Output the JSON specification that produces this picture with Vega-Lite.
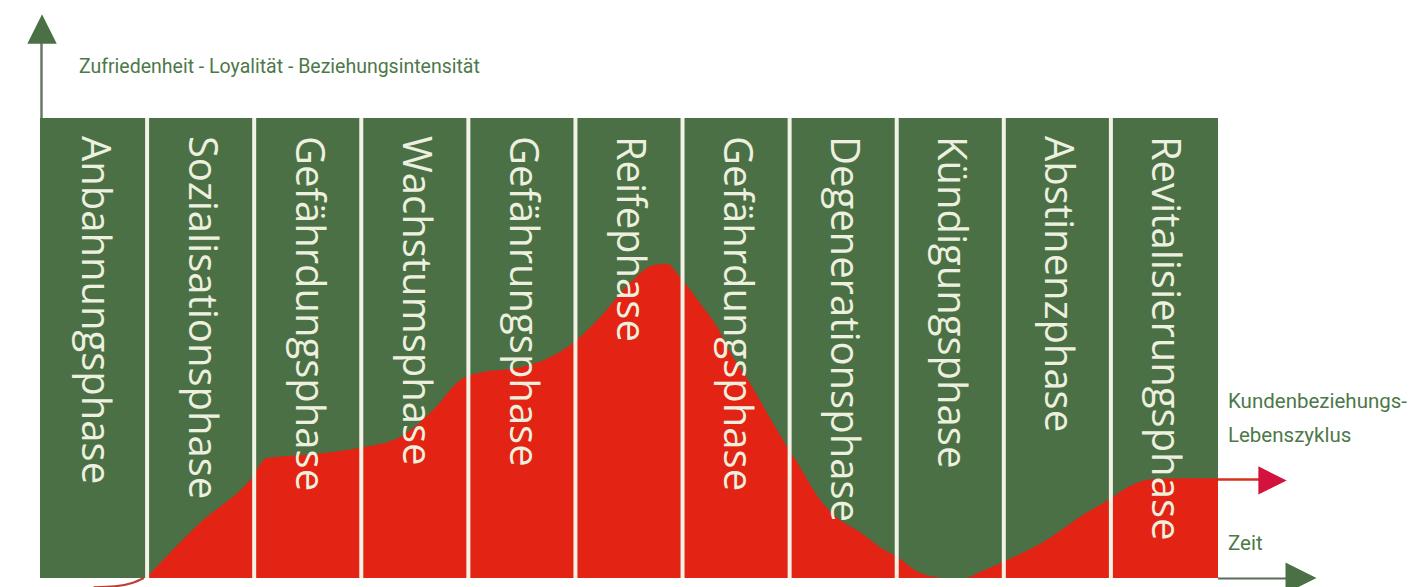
{
  "$schema": "https://vega.github.io/schema/vega-lite/v6.json",
  "width": 1424,
  "height": 587,
  "padding": 0,
  "autosize": {"type": "none"},
  "background": "white",
  "config": {"view": {"stroke": null}},
  "datasets": {
    "phases": [
      {"phase": "Anbahnungsphase", "start": 0, "end": 1},
      {"phase": "Sozialisationsphase", "start": 1, "end": 2},
      {"phase": "Gefährdungsphase", "start": 2, "end": 3},
      {"phase": "Wachstumsphase", "start": 3, "end": 4},
      {"phase": "Gefährungsphase", "start": 4, "end": 5},
      {"phase": "Reifephase", "start": 5, "end": 6},
      {"phase": "Gefährdungsphase", "start": 6, "end": 7},
      {"phase": "Degenerationsphase", "start": 7, "end": 8},
      {"phase": "Kündigungsphase", "start": 8, "end": 9},
      {"phase": "Abstinenzphase", "start": 9, "end": 10},
      {"phase": "Revitalisierungsphase", "start": 10, "end": 11}
    ],
    "curve": [
      {"t": 0.99, "v": 0},
      {"t": 1.494, "v": 11.96},
      {"t": 1.961, "v": 21.3},
      {"t": 2.12, "v": 26.1},
      {"t": 2.428, "v": 26.7},
      {"t": 2.736, "v": 27.4},
      {"t": 2.988, "v": 28.3},
      {"t": 3.362, "v": 30.65},
      {"t": 3.67, "v": 36.5},
      {"t": 3.922, "v": 43.0},
      {"t": 4.137, "v": 44.8},
      {"t": 4.454, "v": 45.65},
      {"t": 4.762, "v": 48.0},
      {"t": 4.977, "v": 51.1},
      {"t": 5.229, "v": 56.7},
      {"t": 5.537, "v": 64.8},
      {"t": 5.724, "v": 68.0},
      {"t": 5.855, "v": 68.3},
      {"t": 5.976, "v": 65.4},
      {"t": 6.163, "v": 59.8},
      {"t": 6.322, "v": 54.6},
      {"t": 6.471, "v": 48.0},
      {"t": 6.63, "v": 42.4},
      {"t": 6.789, "v": 35.9},
      {"t": 6.938, "v": 30.0},
      {"t": 7.097, "v": 24.1},
      {"t": 7.284, "v": 17.0},
      {"t": 7.47, "v": 12.6},
      {"t": 7.657, "v": 10.0},
      {"t": 7.844, "v": 6.7},
      {"t": 8.003, "v": 4.6},
      {"t": 8.217, "v": 1.1},
      {"t": 8.47, "v": 0},
      {"t": 8.638, "v": 0},
      {"t": 8.778, "v": 1.3},
      {"t": 9.03, "v": 3.9},
      {"t": 9.403, "v": 8.3},
      {"t": 9.711, "v": 13.3},
      {"t": 9.963, "v": 16.8},
      {"t": 10.178, "v": 20.0},
      {"t": 10.393, "v": 21.5},
      {"t": 10.645, "v": 21.7},
      {"t": 11.0, "v": 21.7}
    ],
    "lead": [
      {"t": 0.5, "v": -2.0},
      {"t": 0.7, "v": -1.8},
      {"t": 0.86, "v": -1.1},
      {"t": 0.97, "v": 0}
    ]
  },
  "layer": [
    {
      "data": {"name": "phases"},
      "mark": {"type": "rect", "color": "#4b7046"},
      "encoding": {
        "x": {"field": "start", "type": "quantitative", "scale": {"domain": [-0.3735, 12.9237], "nice": false, "zero": false}, "axis": null},
        "x2": {"field": "end"},
        "y": {"datum": 0, "type": "quantitative", "scale": {"domain": [-1.957, 125.65], "nice": false, "zero": false}, "axis": null},
        "y2": {"datum": 100}
      }
    },
    {
      "data": {"name": "curve"},
      "mark": {"type": "area", "color": "#e32313", "interpolate": "monotone", "opacity": 1},
      "encoding": {
        "x": {"field": "t", "type": "quantitative", "axis": null},
        "y": {"field": "v", "type": "quantitative", "axis": null},
        "y2": {"datum": 0}
      }
    },
    {
      "data": {"name": "lead"},
      "mark": {"type": "line", "color": "#b8402e", "strokeWidth": 2, "interpolate": "monotone"},
      "encoding": {
        "x": {"field": "t", "type": "quantitative", "axis": null},
        "y": {"field": "v", "type": "quantitative", "axis": null}
      }
    },
    {
      "data": {"name": "phases"},
      "transform": [{"filter": "datum.start > 0"}],
      "mark": {"type": "rule", "color": "#f3f2e6", "strokeWidth": 4},
      "encoding": {
        "x": {"field": "start", "type": "quantitative", "axis": null},
        "y": {"datum": 0, "type": "quantitative", "axis": null},
        "y2": {"datum": 100}
      }
    },
    {
      "data": {"name": "phases"},
      "transform": [{"calculate": "datum.start + 0.5", "as": "mid"}],
      "mark": {"type": "text", "angle": 90, "align": "left", "baseline": "middle", "font": "Open Sans", "fontSize": 40, "color": "#edf0df"},
      "encoding": {
        "x": {"field": "mid", "type": "quantitative", "axis": null},
        "y": {"datum": 96.1, "type": "quantitative", "axis": null},
        "text": {"field": "phase"}
      }
    },
    {
      "data": {"values": [{}]},
      "mark": {"type": "rule", "color": "#687a63", "strokeWidth": 2.5},
      "encoding": {
        "x": {"datum": 0.014, "type": "quantitative", "axis": null},
        "y": {"datum": 100, "type": "quantitative", "axis": null},
        "y2": {"datum": 116.5}
      }
    },
    {
      "data": {"values": [{}]},
      "mark": {"type": "point", "shape": "M-1,1L0,-1L1,1Z", "filled": true, "opacity": 1, "size": 870, "color": "#4b7046", "strokeWidth": 0},
      "encoding": {
        "x": {"datum": 0.019, "type": "quantitative", "axis": null},
        "y": {"datum": 119.35, "type": "quantitative", "axis": null}
      }
    },
    {
      "data": {"values": [{}]},
      "mark": {"type": "rule", "color": "#5d6b5a", "strokeWidth": 2},
      "encoding": {
        "x": {"datum": 11, "type": "quantitative", "axis": null},
        "x2": {"datum": 11.68},
        "y": {"datum": -0.1, "type": "quantitative", "axis": null}
      }
    },
    {
      "data": {"values": [{}]},
      "mark": {"type": "point", "shape": "M-1,-1L1,0L-1,1Z", "filled": true, "opacity": 1, "size": 960, "color": "#4b7046", "strokeWidth": 0},
      "encoding": {
        "x": {"datum": 11.775, "type": "quantitative", "axis": null},
        "y": {"datum": 0, "type": "quantitative", "axis": null}
      }
    },
    {
      "data": {"values": [{}]},
      "mark": {"type": "rule", "color": "#d8301f", "strokeWidth": 2.5},
      "encoding": {
        "x": {"datum": 11, "type": "quantitative", "axis": null},
        "x2": {"datum": 11.42},
        "y": {"datum": 21.4, "type": "quantitative", "axis": null}
      }
    },
    {
      "data": {"values": [{}]},
      "mark": {"type": "point", "shape": "M-1,-1L1,0L-1,1Z", "filled": true, "opacity": 1, "size": 800, "color": "#d3123e", "strokeWidth": 0},
      "encoding": {
        "x": {"datum": 11.509, "type": "quantitative", "axis": null},
        "y": {"datum": 21.2, "type": "quantitative", "axis": null}
      }
    },
    {
      "data": {"values": [{}]},
      "mark": {"type": "text", "align": "left", "baseline": "alphabetic", "font": "Roboto", "fontSize": 19.5, "color": "#4d7849"},
      "encoding": {
        "x": {"datum": 0.364, "type": "quantitative", "axis": null},
        "y": {"datum": 109.8, "type": "quantitative", "axis": null},
        "text": {"value": "Zufriedenheit - Loyalität - Beziehungsintensität"}
      }
    },
    {
      "data": {"values": [{}]},
      "mark": {"type": "text", "align": "left", "baseline": "alphabetic", "font": "Roboto", "fontSize": 20.5, "color": "#4d7849"},
      "encoding": {
        "x": {"datum": 11.093, "type": "quantitative", "axis": null},
        "y": {"datum": 36.96, "type": "quantitative", "axis": null},
        "text": {"value": "Kundenbeziehungs-"}
      }
    },
    {
      "data": {"values": [{}]},
      "mark": {"type": "text", "align": "left", "baseline": "alphabetic", "font": "Roboto", "fontSize": 20.5, "color": "#4d7849"},
      "encoding": {
        "x": {"datum": 11.093, "type": "quantitative", "axis": null},
        "y": {"datum": 29.57, "type": "quantitative", "axis": null},
        "text": {"value": "Lebenszyklus"}
      }
    },
    {
      "data": {"values": [{}]},
      "mark": {"type": "text", "align": "left", "baseline": "alphabetic", "font": "Roboto", "fontSize": 20.5, "color": "#4d7849"},
      "encoding": {
        "x": {"datum": 11.093, "type": "quantitative", "axis": null},
        "y": {"datum": 6.09, "type": "quantitative", "axis": null},
        "text": {"value": "Zeit"}
      }
    }
  ]
}
